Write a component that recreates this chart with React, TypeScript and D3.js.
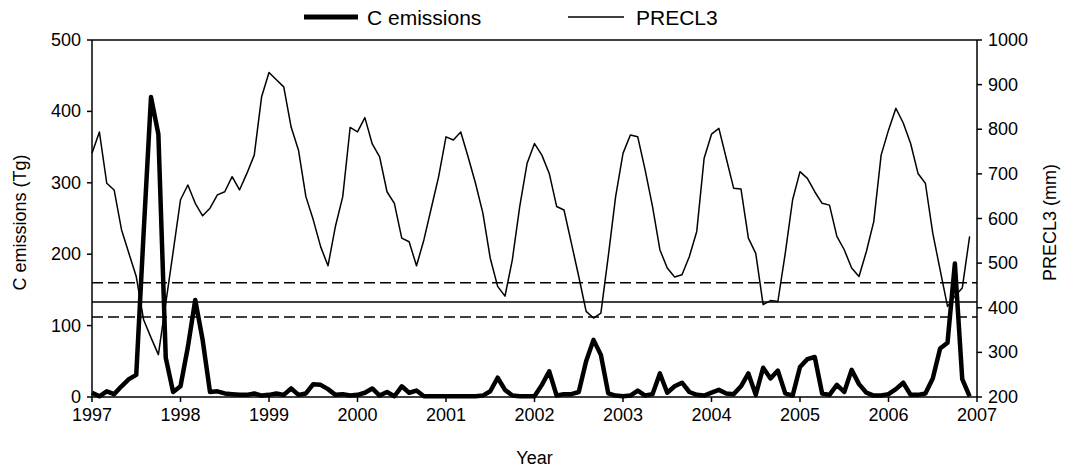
import React from 'react';
import * as d3 from 'd3';

// monthly values, Jan 1997 .. Dec 2006
const cEmissions = [
  6, 1, 8, 4, 15, 25, 31, 230, 420, 368, 55, 7,
  15, 70, 136, 80, 7, 8, 5, 4, 3, 3, 5, 2,
  3, 5, 3, 12, 3, 5, 18, 17, 11, 3, 4, 2,
  3, 6, 12, 2, 7, 1, 15, 6, 9, 1, 1, 1,
  1, 1, 1, 1, 1, 2, 8, 27, 10, 2, 1, 1,
  1, 17, 36, 2, 4, 4, 7, 50, 80, 59, 5, 2,
  1, 2, 9, 2, 4, 33, 6, 15, 20, 7, 3, 2,
  6, 10, 5, 4, 15, 33, 3, 41, 26, 37, 5, 2,
  42, 53, 56, 5, 3, 17, 7, 38, 18, 6, 2, 2,
  4, 11, 20, 3, 3, 5, 26, 68, 76, 187, 25, 1,
];

const precl3 = [
  746, 794, 679, 664, 575, 522, 470, 373, 333, 295, 410, 525,
  642, 675, 634, 606, 623, 653, 660, 694, 664, 701, 742, 873,
  927, 911, 895, 805, 753, 649, 597, 537, 494, 582, 649, 804,
  794, 826, 767, 738, 660, 634, 556, 548, 494, 552, 623, 694,
  783, 776, 794, 738, 679, 612, 511, 448, 426, 508, 627, 724,
  768, 742, 701, 627, 619, 545, 470, 392, 377, 388, 515, 649,
  746, 787, 783, 709, 627, 530, 489, 469, 474, 515, 571, 735,
  789, 802, 735, 668, 666, 556, 522, 407, 416, 414, 522, 642,
  705, 690, 660, 634, 630, 560, 530, 489, 470, 526, 593, 742,
  798, 847, 814, 768, 701, 679, 567, 485, 403, 426, 444, 560,
];

// mean and +/- band of emissions
const meanLine = 133;
const bandLines = [160, 112];

const yearTicks = d3.range(1997, 2008);
const leftTicks = [0, 100, 200, 300, 400, 500];
const rightTicks = [200, 300, 400, 500, 600, 700, 800, 900, 1000];

const W = 1068;
const H = 467;
const margin = { top: 40, right: 91, bottom: 70, left: 92 };
const font = "'Liberation Sans', Arial, sans-serif";

export default function App() {
  const x = d3.scaleLinear().domain([1997, 2007]).range([margin.left, W - margin.right]);
  const yL = d3.scaleLinear().domain([0, 500]).range([H - margin.bottom, margin.top]);
  const yR = d3.scaleLinear().domain([200, 1000]).range([H - margin.bottom, margin.top]);

  const t = (i: number) => 1997 + i / 12;
  const emLine = d3.line<number>().x((d, i) => x(t(i))).y(d => yL(d));
  const prLine = d3.line<number>().x((d, i) => x(t(i))).y(d => yR(d));

  const x0 = x.range()[0];
  const x1 = x.range()[1];
  const yTop = yL.range()[1];
  const yBot = yL.range()[0];

  return (
    <svg width={W} height={H} style={{ position: 'absolute', left: 0, top: 0, background: '#fff' }}
      fontFamily={font}>
      {/* legend */}
      <g transform="translate(0,17)">
        <line x1={304} x2={358} y1={0} y2={0} stroke="#000" strokeWidth={5} />
        <text x={367} y={7.5} fontSize={21}>C emissions</text>
        <line x1={568} x2={624} y1={0} y2={0} stroke="#000" strokeWidth={1.5} />
        <text x={636} y={7.5} fontSize={21}>PRECL3</text>
      </g>

      {/* frame */}
      <line x1={x0} x2={x1} y1={yTop} y2={yTop} stroke="#000" strokeWidth={1.5} />
      <line x1={x0} x2={x1} y1={yBot} y2={yBot} stroke="#000" strokeWidth={1.5} />
      <line x1={x0} x2={x0} y1={yTop} y2={yBot} stroke="#000" strokeWidth={1.5} />
      <line x1={x1} x2={x1} y1={yTop} y2={yBot} stroke="#000" strokeWidth={1.5} />

      {/* left axis */}
      {leftTicks.map(v => (
        <g key={'l' + v}>
          <line x1={x0 - 5} x2={x0} y1={yL(v)} y2={yL(v)} stroke="#000" strokeWidth={1.5} />
          <text x={x0 - 11} y={yL(v) + 6} fontSize={18} textAnchor="end">{v}</text>
        </g>
      ))}
      {/* right axis */}
      {rightTicks.map(v => (
        <g key={'r' + v}>
          <line x1={x1} x2={x1 + 5} y1={yR(v)} y2={yR(v)} stroke="#000" strokeWidth={1.5} />
          <text x={x1 + 11} y={yR(v) + 6} fontSize={18}>{v}</text>
        </g>
      ))}
      {/* bottom axis */}
      {yearTicks.map(v => (
        <g key={'x' + v}>
          <line x1={x(v)} x2={x(v)} y1={yBot} y2={yBot + 5} stroke="#000" strokeWidth={1.5} />
          <text x={x(v)} y={yBot + 24} fontSize={18} textAnchor="middle">{v}</text>
        </g>
      ))}

      <text x={(x0 + x1) / 2} y={464} fontSize={18} textAnchor="middle">Year</text>
      <text transform={`translate(26,${(yTop + yBot) / 2 + 4}) rotate(-90)`} fontSize={18} textAnchor="middle">C emissions (Tg)</text>
      <text transform={`translate(1056,${(yTop + yBot) / 2 + 4}) rotate(-90)`} fontSize={18} textAnchor="middle">PRECL3 (mm)</text>

      {/* reference lines */}
      <line x1={x0} x2={x1} y1={yL(meanLine)} y2={yL(meanLine)} stroke="#000" strokeWidth={1.5} />
      {bandLines.map(v => (
        <line key={'b' + v} x1={x0} x2={x1} y1={yL(v)} y2={yL(v)} stroke="#000" strokeWidth={1.5} strokeDasharray="11,5" />
      ))}

      <path d={prLine(precl3) || ''} fill="none" stroke="#000" strokeWidth={1.5} strokeLinejoin="round" />
      <path d={emLine(cEmissions) || ''} fill="none" stroke="#000" strokeWidth={4.5} strokeLinejoin="round" />
    </svg>
  );
}
